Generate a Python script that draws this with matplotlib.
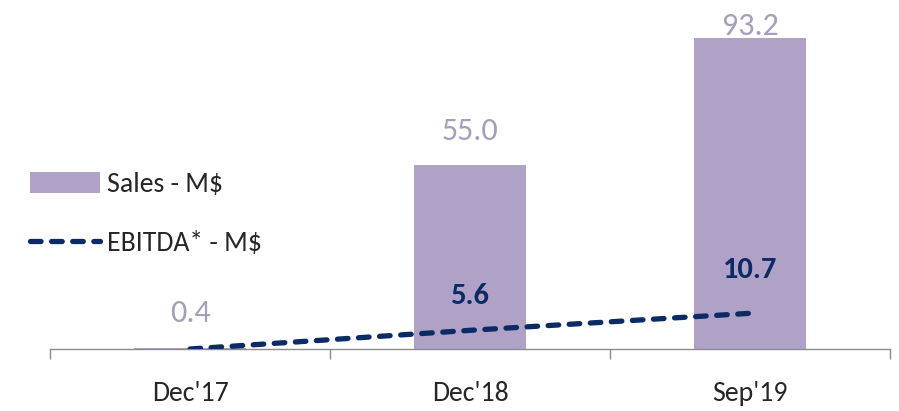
import matplotlib
matplotlib.use("Agg")
import matplotlib.pyplot as plt
from matplotlib.lines import Line2D
from matplotlib.patches import Patch

categories = ["Dec'17", "Dec'18", "Sep'19"]
sales = [0.4, 55.0, 93.2]
ebitda = [0.0, 5.6, 10.7]
sales_labels = ["0.4", "55.0", "93.2"]
ebitda_labels = [None, "5.6", "10.7"]

FONT = ['Carlito', 'DejaVu Sans']
plt.rcParams['font.family'] = FONT

bar_color = '#b0a2c7'
sales_text_color = '#a69ebb'
line_color = '#0c2a66'
text_color = '#262626'
LW = 3.8
DASH = (2.0, 2.0)

fig = plt.figure(figsize=(8.99, 4.11), dpi=100)
ax = fig.add_axes([50/899, 62/411, 840/899, 349/411])

x = list(range(len(categories)))
ax.bar(x, sales, width=0.4, color=bar_color, zorder=2)
ax.plot(x, ebitda, color=line_color, linewidth=LW, dashes=DASH,
        dash_capstyle='round', zorder=3)

sales_offsets = [25, 24.5, 8.5]
for xi, v, lab, off in zip(x, sales, sales_labels, sales_offsets):
    ax.annotate(lab, (xi, v), xytext=(0, off), textcoords='offset points',
                ha='center', va='center', fontsize=23, color=sales_text_color,
                annotation_clip=False, zorder=1)

ebitda_offsets = [0, 24.5, 31]
for xi, v, lab, off in zip(x, ebitda, ebitda_labels, ebitda_offsets):
    if lab:
        ax.annotate(lab, (xi, v), xytext=(0, off), textcoords='offset points',
                    ha='center', va='center', fontsize=22, color=line_color,
                    fontweight='bold', zorder=4)

ax.set_xlim(-0.5, 2.5)
ax.set_ylim(0, 104.6)
ax.set_xticks(x)
ax.set_xticklabels(categories, fontsize=20, color=text_color)
ax.set_xticks([-0.5, 0.5, 1.5, 2.5], minor=True)
ax.tick_params(axis='x', which='major', length=0, pad=23)
ax.tick_params(axis='x', which='minor', length=7, color='#8c8c8c', width=1)
ax.set_yticks([])
for s in ['top', 'right', 'left']:
    ax.spines[s].set_visible(False)
ax.spines['bottom'].set_color('#8c8c8c')
ax.spines['bottom'].set_linewidth(1)

handles = [Patch(facecolor=bar_color, edgecolor='none'),
           Line2D([0], [0], color=line_color, linewidth=LW, dashes=DASH,
                  dash_capstyle='round')]
leg = fig.legend(handles, ['Sales - M$', 'EBITDA* - M$'], loc='upper left',
                 bbox_to_anchor=(30/899, 1 - 172/411), frameon=False,
                 borderpad=0, borderaxespad=0,
                 fontsize=20, handlelength=2.52, handleheight=0.8,
                 handletextpad=0.25, labelspacing=1.22, labelcolor=text_color)

fig.savefig('out.png', dpi=100)
